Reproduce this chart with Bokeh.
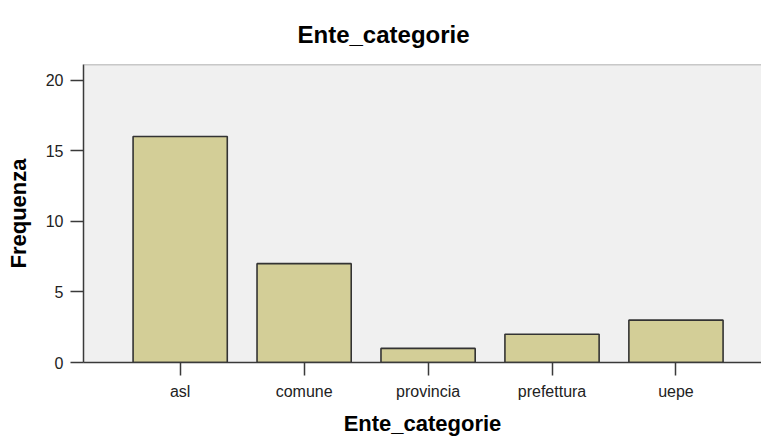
from bokeh.plotting import figure
from bokeh.models import Range1d, FixedTicker, ColumnDataSource, Span
from bokeh.embed import file_html
from bokeh.resources import INLINE

categories = ["asl", "comune", "provincia", "prefettura", "uepe"]
frequenze = [16, 7, 1, 2, 3]
y_ticks = [0, 5, 10, 15, 20]

positions = list(range(len(categories)))
src = ColumnDataSource(dict(x=positions, top=frequenze, cat=categories))

Y_END = 21.1
p = figure(width=761, height=438, output_backend="svg", toolbar_location=None,
           x_range=Range1d(-0.78, 4.69), y_range=Range1d(0, Y_END),
           min_border_left=83, min_border_right=0, min_border_top=64, min_border_bottom=76)

p.background_fill_color = "#F0F0F0"
p.border_fill_color = "white"
p.outline_line_color = None
p.grid.visible = False

p.vbar(x="x", top="top", width=0.76, source=src, fill_color="#D3CE97",
       line_color="#333333", line_width=1.6)

p.add_layout(Span(location=Y_END, dimension="width", line_color="#9A9A9A", line_width=1.5))

p.title.text = "Ente_categorie"
p.title.text_font = "Liberation Sans"
p.title.text_font_size = "24px"
p.title.text_font_style = "bold"
p.title.text_color = "black"
p.title.align = "left"
p.title.offset = 214
p.title.vertical_align = "bottom"
p.title.standoff = 34

p.xaxis.ticker = FixedTicker(ticks=positions)
p.xaxis.major_label_overrides = {i: c for i, c in zip(positions, categories)}
p.xaxis.axis_label = "Ente_categorie"
p.yaxis.ticker = FixedTicker(ticks=y_ticks)
p.yaxis.axis_label = "Frequenza"

for ax in (p.xaxis[0], p.yaxis[0]):
    ax.axis_line_color = "#3A3A3A"
    ax.axis_line_width = 1.5
    ax.major_tick_line_color = "#3A3A3A"
    ax.major_tick_line_width = 1.5
    ax.major_tick_in = 0
    ax.major_tick_out = 13
    ax.minor_tick_line_color = None
    ax.major_label_text_font = "Liberation Sans"
    ax.major_label_text_font_size = "16px"
    ax.major_label_text_color = "#222222"
    ax.major_label_standoff = 7
    ax.axis_label_text_font = "Liberation Sans"
    ax.axis_label_text_font_size = "22px"
    ax.axis_label_text_font_style = "bold"
    ax.axis_label_text_color = "black"

p.xaxis.axis_label_standoff = 8
p.yaxis.axis_label_standoff = 12

open("out.html", "w").write(file_html(p, INLINE))
